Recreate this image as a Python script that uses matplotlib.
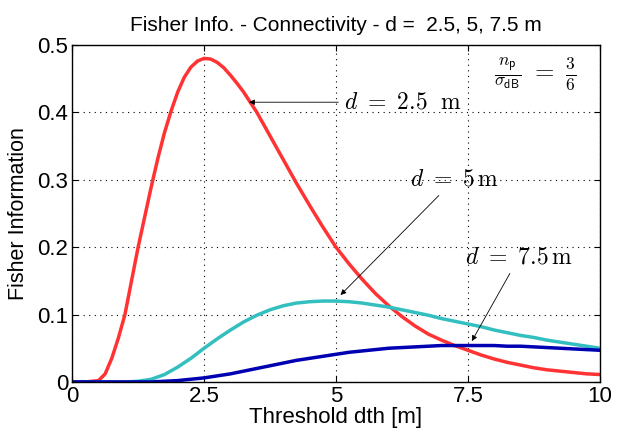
import numpy as np
import matplotlib
matplotlib.use("Agg")
import matplotlib.pyplot as plt

plt.rcParams["font.family"] = ["Liberation Sans", "DejaVu Sans"]
plt.rcParams["mathtext.fontset"] = "cm"

# threshold dth [m]; finer steps where the red curve bends sharply
dth_d25 = [0, 0.25, 0.5, 0.625, 0.75, 0.875, 1.0, 1.125, 1.25, 1.375, 1.5,
           1.625, 1.75, 1.875, 2.0, 2.125, 2.25, 2.375, 2.5, 2.625, 2.75,
           2.875, 3.0, 3.125, 3.25, 3.375, 3.5, 3.75, 4.0, 4.25, 4.5, 4.75, 5.0,
           5.25, 5.5, 5.75, 6.0, 6.25, 6.5, 6.75, 7.0, 7.25, 7.5, 7.75, 8.0,
           8.25, 8.5, 8.75, 9.0, 9.25, 9.5, 9.75, 10.0]
fisher_d25 = [0, 0, 0.002, 0.012, 0.035, 0.065, 0.10, 0.15, 0.20, 0.245, 0.29,
              0.332, 0.37, 0.402, 0.43, 0.452, 0.467, 0.476, 0.48, 0.479, 0.474,
              0.466, 0.455, 0.443, 0.43, 0.415, 0.40, 0.365, 0.33, 0.295, 0.262, 0.23, 0.20,
              0.175, 0.152, 0.131, 0.113, 0.097, 0.083, 0.071, 0.062, 0.054, 0.047, 0.040, 0.034,
              0.029, 0.025, 0.021, 0.018, 0.016, 0.014, 0.012, 0.011]

dth = np.arange(0, 10.01, 0.25)
fisher_d5 = [0, 0, 0, 0, 0, 0.001, 0.004, 0.011, 0.022, 0.035, 0.05,
             0.064, 0.077, 0.089, 0.099, 0.107, 0.113, 0.117, 0.119, 0.12, 0.12,
             0.119, 0.117, 0.114, 0.111, 0.107, 0.103, 0.099, 0.094, 0.09, 0.086,
             0.082, 0.077, 0.073, 0.069, 0.066, 0.062, 0.059, 0.056, 0.053, 0.05]
fisher_d75 = [0, 0, 0, 0, 0, 0, 0, 0.001, 0.002, 0.004, 0.006,
              0.009, 0.012, 0.016, 0.02, 0.024, 0.028, 0.032, 0.035, 0.038, 0.041,
              0.044, 0.046, 0.048, 0.05, 0.051, 0.052, 0.053, 0.054, 0.054, 0.054,
              0.054, 0.054, 0.053, 0.053, 0.052, 0.051, 0.05, 0.049, 0.048, 0.047]

xticks = [0, 2.5, 5, 7.5, 10]
xtick_labels = ["0", "2.5", "5", "7.5", "10"]
yticks = [0, 0.1, 0.2, 0.3, 0.4, 0.5]
ytick_labels = ["0", "0.1", "0.2", "0.3", "0.4", "0.5"]

fig = plt.figure(figsize=(6.17, 4.36), dpi=100)
ax = fig.add_axes([0.117, 0.124, 0.855, 0.773])

ax.plot(dth_d25, fisher_d25, color=(1.0, 0.2, 0.2), lw=2.5, solid_joinstyle="round")
ax.plot(dth, fisher_d5, color=(0.2, 0.75, 0.75), lw=2.5, solid_joinstyle="round")
ax.plot(dth, fisher_d75, color=(0.0, 0.0, 0.7), lw=2.5, solid_joinstyle="round")

ax.set_xlim(0, 10)
ax.set_ylim(0, 0.5)
ax.set_xticks(xticks)
ax.set_xticklabels(xtick_labels)
ax.set_yticks(yticks)
ax.set_yticklabels(ytick_labels)
ax.tick_params(direction="in", labelsize=16, top=True, right=True, length=4, pad=3)
ax.grid(True, linestyle=(0, (1, 4)), color="black", lw=0.8)
for s in ax.spines.values():
    s.set_linewidth(1.0)

ax.set_xlabel("Threshold dth [m]", fontsize=16, labelpad=0)
ax.set_ylabel("Fisher Information", fontsize=15.5, labelpad=6)
ax.set_title("Fisher Info. - Connectivity - d =  2.5, 5, 7.5 m", fontsize=15, pad=10)

arrow = dict(arrowstyle="-|>", color="black", lw=0.6, mutation_scale=8)
ax.annotate(r"$d\ =\ 2.5\ \ \mathrm{m}$", xy=(3.3, 0.415), xytext=(5.15, 0.415),
            fontsize=17, va="center", ha="left", arrowprops=arrow)
ax.annotate(r"$d\ =\ 5\,\mathrm{m}$", xy=(5.05, 0.126), xytext=(6.4, 0.3),
            fontsize=17, va="center", ha="left", arrowprops=arrow)
ax.annotate(r"$d\ =\ 7.5\,\mathrm{m}$", xy=(7.55, 0.057), xytext=(7.45, 0.185),
            fontsize=17, va="center", ha="left", arrowprops=arrow)
ax.text(8.0, 0.458, r"$\frac{n_{\mathsf{p}}}{\sigma_{\mathsf{dB}}}\ =\ \frac{3}{6}$",
        fontsize=18, va="center", ha="left")

fig.savefig("out.png", dpi=100)
